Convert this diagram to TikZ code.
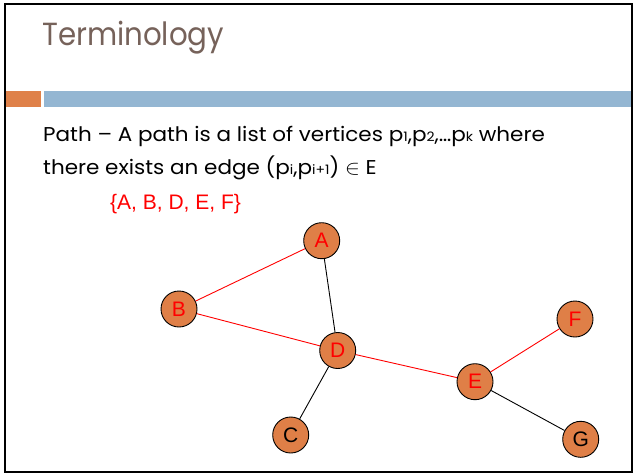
\documentclass[tikz,border=0pt]{standalone}
\usepackage{fontspec}
\setmainfont{Poppins}
\newfontfamily\arialf{Liberation Sans}
\usepackage{graphicx}
\definecolor{titlebrown}{HTML}{76625A}
\definecolor{barorange}{HTML}{DF8149}
\definecolor{barblue}{HTML}{94B6D2}
\definecolor{nodeorange}{HTML}{DF7F47}
\newcommand{\mysub}[1]{\raisebox{-0.5pt}{\fontsize{13}{13}\selectfont #1}}
\newcommand{\bodyx}[1]{\scalebox{1.075}[1]{#1}}
\tikzset{
  vert/.style={circle, draw=black, line width=0.9pt, fill=nodeorange, minimum size=36pt, inner sep=0pt, font=\arialf\fontsize{21}{21}\selectfont},
  redlab/.style={text=red},
  blacklab/.style={text=black},
  pathedge/.style={draw=red, line width=0.9pt},
  plainedge/.style={draw=black, line width=0.9pt},
  bodytext/.style={anchor=base west, inner sep=0pt, font=\fontsize{20}{20}\selectfont},
}
\begin{document}
\begin{tikzpicture}[x=1pt,y=-1pt]
\useasboundingbox (0,0) rectangle (634,474);
\fill[white] (0,0) rectangle (634,474);
\draw[line width=2.4pt, black] (5,4) rectangle (632,472);
% title
\node[anchor=base west, inner sep=0pt, text=titlebrown, font=\fontsize{32}{32}\selectfont] (title) at (42,45.7) {\scalebox{0.915}[1]{Terminology}};
% bars
\fill[barorange] (6,90.7) rectangle (41,106.7);
\fill[barblue] (44,90.7) rectangle (631,106.7);
% body text
\node[bodytext] (line1) at (43,141)
  {\bodyx{Path -- A path is a list of vertices p\mysub{1},p\mysub{2},\dots p\mysub{k} where}};
\node[bodytext] (line2) at (43,174.3)
  {\bodyx{there exists an edge (p\mysub{i},p\mysub{i+1}) $\in$ E}};
\node[anchor=base west, inner sep=0pt, text=red, font=\arialf\fontsize{21}{21}\selectfont] (pathset) at (110,209)
  {\{A, B, D, E, F\}};
% graph
\node[vert, redlab] (A) at (321.7,240.7) {A};
\node[vert, redlab] (B) at (179,309) {B};
\node[vert, redlab] (D) at (337.7,350.5) {D};
\node[vert, redlab] (E) at (475,381.7) {E};
\node[vert, redlab] (F) at (575,319) {F};
\node[vert, blacklab] (C) at (290.7,435) {C};
\node[vert, blacklab] (G) at (580.7,439.3) {G};
\draw[pathedge] (A) -- (B);
\draw[pathedge] (B) -- (D);
\draw[pathedge] (D) -- (E);
\draw[pathedge] (E) -- (F);
\draw[plainedge] (A) -- (D);
\draw[plainedge] (D) -- (C);
\draw[plainedge] (E) -- (G);
\end{tikzpicture}
\end{document}
